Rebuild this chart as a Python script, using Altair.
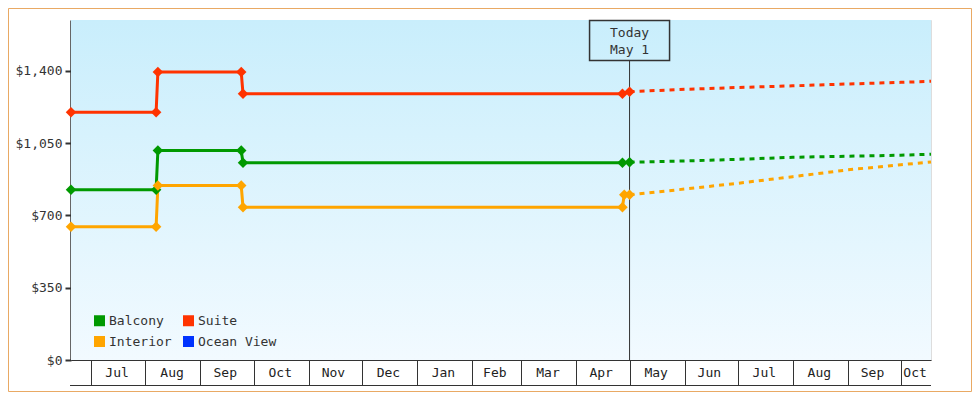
import altair as alt
import pandas as pd

# ---------------- data ----------------
# legend order (column-major, 2 columns): Balcony / Interior | Suite / Ocean View
series_names = ["Balcony", "Interior", "Suite", "Ocean View"]
series_colors = ["#009900", "#ffa500", "#ff3300", "#0033ff"]

balcony_dates = ["2024-06-20", "2024-08-07", "2024-08-08", "2024-09-24", "2024-09-25", "2025-04-27", "2025-05-01"]
balcony_vals = [825, 825, 1015, 1015, 955, 955, 958]

suite_dates = ["2024-06-20", "2024-08-07", "2024-08-08", "2024-09-24", "2024-09-25", "2025-04-27", "2025-05-01"]
suite_vals = [1200, 1200, 1395, 1395, 1290, 1290, 1300]

interior_dates = ["2024-06-20", "2024-08-07", "2024-08-08", "2024-09-24", "2024-09-25", "2025-04-27", "2025-04-28", "2025-05-01"]
interior_vals = [645, 645, 845, 845, 740, 740, 800, 800]

forecast_dates = ["2025-05-01", "2025-06-01", "2025-07-01", "2025-08-01", "2025-09-01", "2025-10-01", "2025-10-18"]
balcony_fc = [958, 964, 972, 982, 987, 992, 997]
suite_fc = [1300, 1311, 1320, 1328, 1337, 1345, 1350]
interior_fc = [800, 828, 856, 888, 921, 946, 959]

month_starts = [(2024, m) for m in range(7, 13)] + [(2025, m) for m in range(1, 11)]
month_label_dates = ["2024-07-16", "2024-08-16", "2024-09-15", "2024-10-16", "2024-11-15", "2024-12-16",
                     "2025-01-16", "2025-02-14", "2025-03-16", "2025-04-15", "2025-05-16", "2025-06-15",
                     "2025-07-16", "2025-08-16", "2025-09-15", "2025-10-09"]
month_labels = ["Jul", "Aug", "Sep", "Oct", "Nov", "Dec", "Jan", "Feb", "Mar", "Apr",
                "May", "Jun", "Jul", "Aug", "Sep", "Oct"]

y_ticks = [0, 350, 700, 1050, 1400]
today_date = "2025-05-01"
today_text = "Today\nMay 1"

# ---------------- tables ----------------
hist_rows = []
for name, ds, vs in [("Balcony", balcony_dates, balcony_vals),
                     ("Suite", suite_dates, suite_vals),
                     ("Interior", interior_dates, interior_vals)]:
    for d, v in zip(ds, vs):
        hist_rows.append({"series": name, "date": d, "value": v})
hist_df = pd.DataFrame(hist_rows)

fc_rows = []
for name, vs in [("Balcony", balcony_fc), ("Suite", suite_fc), ("Interior", interior_fc)]:
    for d, v in zip(forecast_dates, vs):
        fc_rows.append({"series": name, "date": d, "value": v})
fc_df = pd.DataFrame(fc_rows)

labels_df = pd.DataFrame({"date": month_label_dates, "label": month_labels})
today_df = pd.DataFrame({"date": [today_date], "label": [today_text]})
one_df = pd.DataFrame({"a": [0]})

FONT = "DejaVu Sans Mono"
W, H = 860, 340

x_scale = alt.Scale(type="utc", domain=[alt.DateTime(year=2024, month=6, date=20, utc=True),
                                        alt.DateTime(year=2025, month=10, date=18, utc=True)])
X = alt.X("date:T", scale=x_scale, title=None,
          axis=alt.Axis(values=[alt.DateTime(year=y, month=m, date=1, utc=True) for y, m in month_starts],
                        labels=False, grid=False, tickSize=25, tickColor="#333333", tickWidth=1,
                        domainColor="#333333", domainWidth=1))
Y = alt.Y("value:Q", scale=alt.Scale(domain=[0, 1647], nice=False), title=None,
          axis=alt.Axis(values=y_ticks, format="$,.0f", grid=False, domainColor="#333333", domainWidth=2.5,
                        tickColor="#333333", tickWidth=2, tickSize=6, labelFont=FONT, labelFontSize=13,
                        labelColor="#333333", labelPadding=3))
color_scale = alt.Scale(domain=series_names, range=series_colors)
legend = alt.Legend(orient="none", legendX=22, legendY=294, columns=2, title=None,
                    symbolType="square", symbolSize=121, symbolStrokeWidth=0, symbolOpacity=1,
                    labelFont=FONT, labelFontSize=13, labelColor="#333333",
                    labelOffset=3, columnPadding=10, rowPadding=7, padding=0)
C = alt.Color("series:N", scale=color_scale, legend=legend)

bg = alt.Chart(one_df).mark_rect(
    color=alt.LinearGradient(gradient="linear", x1=0, x2=0, y1=0, y2=1,
                             stops=[alt.GradientStop(color="#c9eefc", offset=0),
                                    alt.GradientStop(color="#f2faff", offset=1)])
).encode(x=alt.value(0), x2=alt.value(W), y=alt.value(0), y2=alt.value(H))

today_rule = alt.Chart(today_df).mark_rule(color="#333333", strokeWidth=1).encode(
    x=X, y=alt.value(40), y2=alt.value(H))
today_box = alt.Chart(today_df).mark_rect(fillOpacity=0, stroke="#333333", strokeWidth=1.5,
                                          xOffset=-40, x2Offset=40).encode(
    x=X, x2="date:T", y=alt.value(0.5), y2=alt.value(40.5))
today_txt = alt.Chart(today_df).mark_text(font=FONT, fontSize=13, color="#333333", align="center",
                                          baseline="middle", lineBreak="\n", lineHeight=17.5).encode(
    x=X, y=alt.value(12.5), text="label:N")

fc_lines = alt.Chart(fc_df).mark_line(strokeWidth=3, strokeDash=[5, 5]).encode(
    x=X, y=Y, color=C, detail="series:N")
hist_lines = alt.Chart(hist_df).mark_line(strokeWidth=3).encode(
    x=X, y=Y, color=C, detail="series:N")
hist_pts = alt.Chart(hist_df).mark_point(shape="diamond", filled=True, size=110, opacity=1).encode(
    x=X, y=Y, color=C)

month_txt = alt.Chart(labels_df).mark_text(font=FONT, fontSize=13, color="#222222", align="center",
                                           baseline="middle").encode(
    x=X, y=alt.value(352.5), text="label:N")
bottom_rule = alt.Chart(one_df).mark_rule(color="#333333", strokeWidth=1).encode(
    x=alt.value(-1), x2=alt.value(W), y=alt.value(365.5))
border = alt.Chart(one_df).mark_rect(fillOpacity=0, stroke="#e9a964", strokeWidth=1).encode(
    x=alt.value(-62.5), x2=alt.value(900.5), y=alt.value(-11.5), y2=alt.value(371.5))

chart = alt.layer(bg, today_rule, today_box, today_txt, fc_lines, hist_lines, hist_pts,
                  month_txt, bottom_rule, border).properties(
    width=W, height=H,
    autosize=alt.AutoSizeParams(type="none"),
    padding={"left": 63, "top": 12, "right": 41, "bottom": 32},
).configure_view(stroke=None).configure(background="white")

chart.save("out.html", embed_options={"renderer": "svg", "actions": False})
